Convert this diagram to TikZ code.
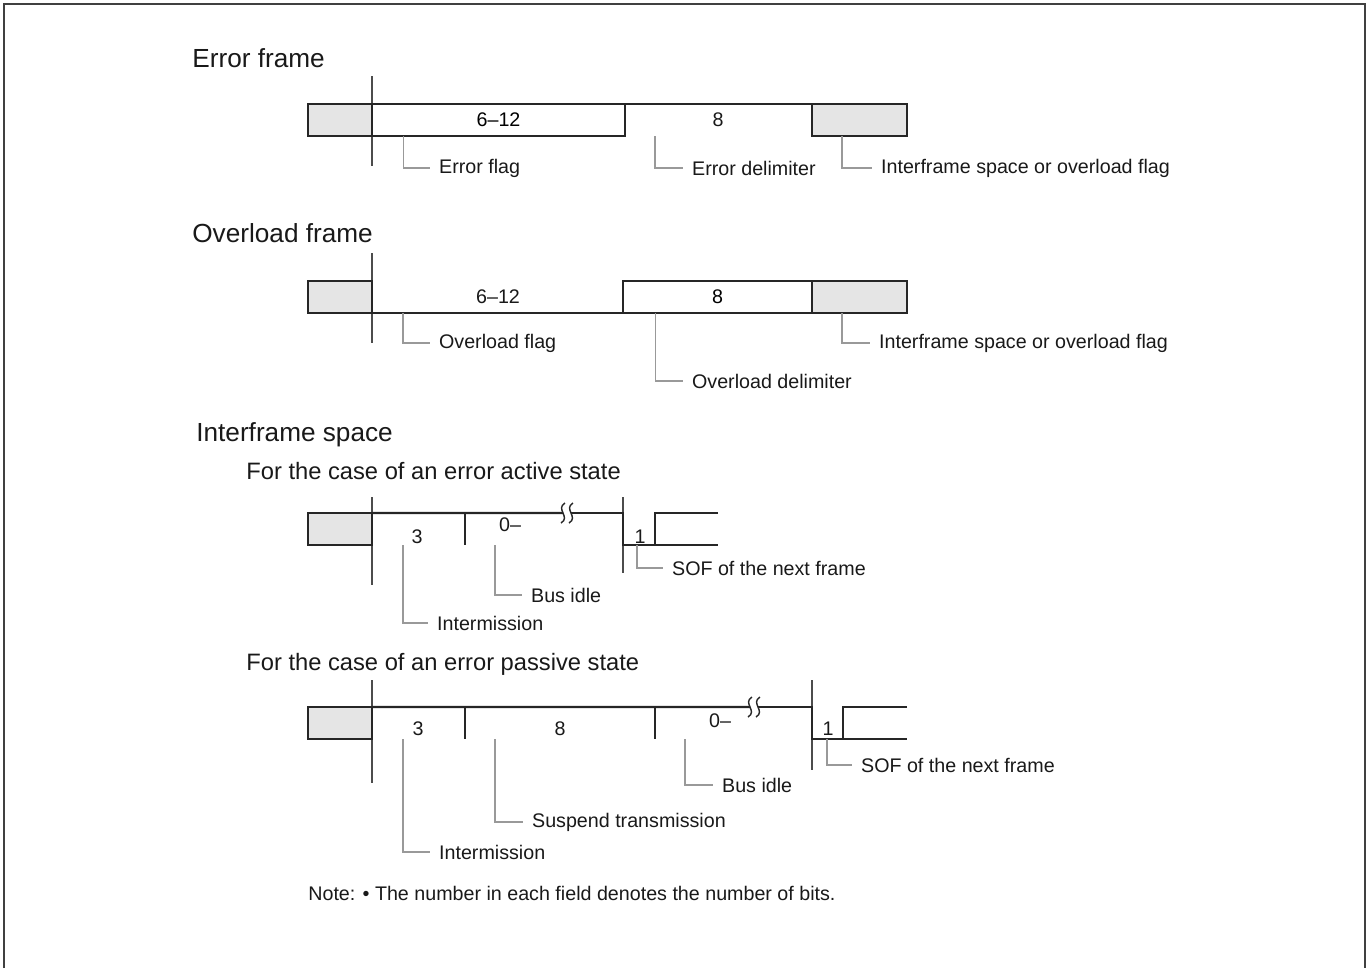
\documentclass[tikz,border=0pt]{standalone}
\usepackage{fontspec}
\setmainfont{Liberation Sans}
\usepackage{tikz}
\usetikzlibrary{calc}
\tikzset{
	wave/.style={line width=1.3pt, black!85},
	fld/.style={draw=black!85, line width=1.3pt, minimum height=0.64cm, inner sep=0pt,
		outer sep=0pt, font=\fontsize{11.2}{13}\selectfont},
	gry/.style={fld, fill=gray!20},
	tck/.style={black!70, line width=0.6pt},
	lead/.style={gray!80, line width=0.6pt},
	sqg/.style={black!85, line width=0.8pt},
	lbl/.style={anchor=west, inner xsep=5pt, inner ysep=0pt, text=black!90,
		font=\fontsize{11.2}{13}\selectfont},
	num/.style={inner sep=0pt, text=black!90, font=\fontsize{11.2}{13}\selectfont},
	ttl/.style={anchor=west, inner sep=0pt, text=black!90, font=\fontsize{14.9}{17}\selectfont},
	sub/.style={anchor=west, inner sep=0pt, text=black!90, font=\fontsize{13.5}{16}\selectfont},
}
\begin{document}
\begin{tikzpicture}[x=0.02cm, y=-0.02cm]
				\useasboundingbox (0,0) rectangle (1372,968);
				\draw[black!75, line width=1pt] (4,968) -- (4,4) -- (1365,4) -- (1365,968);
				% error frame
				\node[ttl] at (192,58) (tErr) {Error frame};
				\draw[tck] (372,76) -- (372,166);
				\node[gry, minimum width=1.28cm] at (340,120) (egl) {};
				\node[fld, minimum width=5.06cm] at (498.5,120) (eflag) {6--12};
				\node[gry, minimum width=1.90cm] at (859.5,120) (egr) {};
				\draw[wave] (eflag.north east) -- (egr.north west);
				\node[num] at (718,120) (edel) {8};
				\node[lbl] at (430,168) (lEflag) {Error flag};
				\node[lbl] at (683,168) (lEdel) {Error delimiter};
				\node[lbl] at (872,168) (lEifs) {Interframe space or overload flag};
				\draw[lead] ($(eflag.south west)+(31,0)$) |- (lEflag.west);
				\draw[lead] ($(eflag.south east)+(30,0)$) |- (lEdel.west);
				\draw[lead] ($(egr.south west)+(30,0)$) |- (lEifs.west);
				% overload frame
				\node[ttl] at (192,233) (tOvl) {Overload frame};
				\draw[tck] (372,253) -- (372,343);
				\node[gry, minimum width=1.28cm] at (340,297) (ogl) {};
				\node[fld, minimum width=3.78cm] at (717.5,297) (odel) {8};
				\node[gry, minimum width=1.90cm] at (859.5,297) (ogr) {};
				\draw[wave] (ogl.south east) -- (odel.south west);
				\node[num] at (498,297) (oflag) {6--12};
				\node[lbl] at (430,343) (lOflag) {Overload flag};
				\node[lbl] at (683,381) (lOdel) {Overload delimiter};
				\node[lbl] at (870,343) (lOifs) {Interframe space or overload flag};
				\draw[lead] ($(ogl.south east)+(31,0)$) |- (lOflag.west);
				\draw[lead] ($(odel.south west)+(32,0)$) |- (lOdel.west);
				\draw[lead] ($(ogr.south west)+(30,0)$) |- (lOifs.west);
				% interframe space, error active
				\node[ttl] at (196,435) (tIfs) {Interframe space};
				\node[sub] at (246,471) (tAct) {For the case of an error active state};
				\draw[tck] (372,497) -- (372,585);
				\draw[tck] (623,497) -- (623,573);
				\node[gry, minimum width=1.28cm] at (340,529) (agl) {};
				\draw[wave] (agl.north east) -- (563,513);
				\draw[wave] (571,513) -- (623,513) -- (623,545) -- (718,545);
				\draw[wave] (718,513) -- (655,513) -- (655,545);
				\draw[wave] (465,513) -- (465,545);
				\foreach \sx in {563,571}
					\draw[sqg] (\sx+2,503) .. controls (\sx-8,509) and (\sx+8,517) .. (\sx-2,523);
				\node[num] at (417,537) (a3) {3};
				\node[num] at (510,525) (a0) {0--};
				\node[num] at (640,537) (a1) {1};
				\coordinate (aInt) at (403,545);
				\coordinate (aIdle) at (495,545);
				\coordinate (aSof) at (637,545);
				\node[lbl] at (428,623) (lAint) {Intermission};
				\node[lbl] at (522,595) (lAidle) {Bus idle};
				\node[lbl] at (663,568) (lAsof) {SOF of the next frame};
				\draw[lead] (aInt) |- (lAint.west);
				\draw[lead] (aIdle) |- (lAidle.west);
				\draw[lead] (aSof) |- (lAsof.west);
				% interframe space, error passive
				\node[sub] at (246,664) (tPas) {For the case of an error passive state};
				\draw[tck] (372,680) -- (372,783);
				\draw[tck] (812,680) -- (812,770);
				\node[gry, minimum width=1.28cm] at (340,723) (pgl) {};
				\draw[wave] (pgl.north east) -- (750,707);
				\draw[wave] (758,707) -- (812,707) -- (812,739) -- (907,739);
				\draw[wave] (907,707) -- (843,707) -- (843,739);
				\draw[wave] (465,707) -- (465,739);
				\draw[wave] (655,707) -- (655,739);
				\foreach \sx in {750,758}
					\draw[sqg] (\sx+2,697) .. controls (\sx-8,703) and (\sx+8,711) .. (\sx-2,717);
				\node[num] at (418,729) (p3) {3};
				\node[num] at (560,729) (p8) {8};
				\node[num] at (720,721) (p0) {0--};
				\node[num] at (828,729) (p1) {1};
				\coordinate (pInt) at (403,739);
				\coordinate (pSus) at (495,739);
				\coordinate (pIdle) at (685,739);
				\coordinate (pSof) at (827,739);
				\node[lbl] at (430,852) (lPint) {Intermission};
				\node[lbl] at (523,822) (lPsus) {Suspend transmission};
				\node[lbl] at (713,785) (lPidle) {Bus idle};
				\node[lbl] at (852,765) (lPsof) {SOF of the next frame};
				\draw[lead] (pInt) |- (lPint.west);
				\draw[lead] (pSus) |- (lPsus.west);
				\draw[lead] (pIdle) |- (lPidle.west);
				\draw[lead] (pSof) |- (lPsof.west);
				% note
				\node[lbl, inner xsep=0pt] at (308,893) (note) {Note: • The number in each field denotes the number of bits.};
			\end{tikzpicture}
\end{document}
